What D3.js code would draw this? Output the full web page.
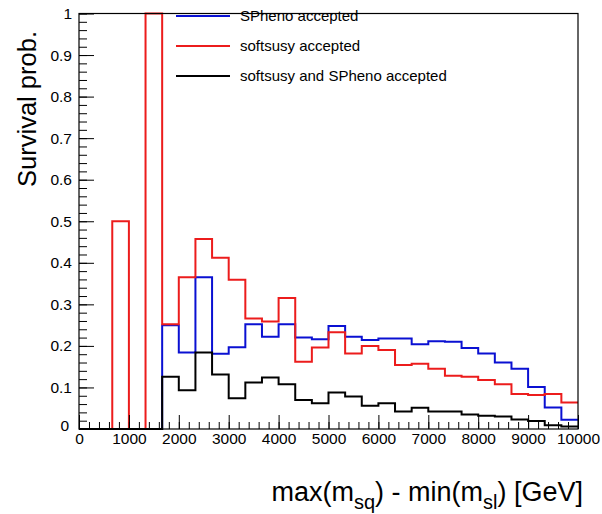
<!DOCTYPE html>
<html>
<head>
<meta charset="utf-8">
<script src="https://cdn.jsdelivr.net/npm/d3@7"></script>
<style>
  body { margin: 0; background: #fff; }
  svg { font-family: "Liberation Sans", Arial, Helvetica, sans-serif; }
</style>
</head>
<body>
<svg id="chart" width="602" height="514"></svg>
<script>
// histogram binning
const xMin = 0, xMax = 10000, nBins = 30

// survival probability per bin
const spheno = [0, 0, 0, 0, 0, 0.250, 0.184, 0.365, 0.181, 0.197,
    0.252, 0.222, 0.252, 0.220, 0.216, 0.248, 0.222, 0.214, 0.218, 0.218,
    0.204, 0.211, 0.210, 0.195, 0.182, 0.160, 0.145, 0.101, 0.052, 0.022]
const softsusy = [0, 0, 0.5, 0, 1.0, 0.252, 0.365, 0.457, 0.412, 0.359,
    0.266, 0.259, 0.315, 0.162, 0.196, 0.233, 0.182, 0.200, 0.190, 0.154,
    0.157, 0.145, 0.128, 0.126, 0.118, 0.108, 0.084, 0.082, 0.084, 0.064]
const both = [0, 0, 0, 0, 0, 0.126, 0.093, 0.184, 0.131, 0.074,
    0.112, 0.124, 0.108, 0.070, 0.062, 0.088, 0.078, 0.056, 0.062, 0.042,
    0.051, 0.042, 0.042, 0.035, 0.032, 0.030, 0.023, 0.019, 0.009, 0.006]

const legendLabels = ['SPheno accepted', 'softsusy accepted', 'softsusy and SPheno accepted']
const colors = ['#0a10d2', '#ec1c1c', '#000000']
const xTicks = [0, 1000, 2000, 3000, 4000, 5000, 6000, 7000, 8000, 9000, 10000]
const yTicks = [0, 0.1, 0.2, 0.3, 0.4, 0.5, 0.6, 0.7, 0.8, 0.9, 1]

let svg = d3.select('#chart')

let padL = 79, padR = 578, padT = 13.5, padB = 429

let x = d3.scaleLinear().domain([xMin, xMax]).range([padL, padR])
let y = d3.scaleLinear().domain([0, 1]).range([padB, padT])

let binW = (xMax - xMin) / nBins

// Histogram outlines
let line = d3.line()
    .x(function (d) { return x(d[0]) })
    .y(function (d) { return y(d[1]) })
    .curve(d3.curveStepAfter)

let series = [spheno, softsusy, both]
series.forEach(function (vals, k) {
    let pts = vals.map(function (v, i) { return [xMin + i * binW, v] })
    pts.push([xMax, vals[vals.length - 1]])
    svg.append('path')
        .attr('d', line(pts))
        .attr('fill', 'none')
        .attr('stroke', colors[k])
        .attr('stroke-width', 2)
})

// Minor ticks
svg.append('g')
    .attr('transform', 'translate(0,' + padB + ')')
    .call(d3.axisBottom(x).tickValues(d3.range(xMin, xMax + 1, 200)).tickSize(-7).tickFormat(''))
    .call(function (g) { g.select('.domain').remove() })
svg.append('g')
    .attr('transform', 'translate(' + padL + ',0)')
    .call(d3.axisLeft(y).tickValues(d3.range(0, 51).map(function (i) { return i / 50 })).tickSize(-8).tickFormat(''))
    .call(function (g) { g.select('.domain').remove() })

// Major ticks + labels
let xAxis = svg.append('g')
    .attr('transform', 'translate(0,' + padB + ')')
    .call(d3.axisBottom(x).tickValues(xTicks).tickSize(-14).tickPadding(4).tickFormat(d3.format('d')))
xAxis.select('.domain').remove()
xAxis.selectAll('text').attr('font-size', 15.5).attr('fill', '#000').style('font-family', 'inherit')

let yAxis = svg.append('g')
    .attr('transform', 'translate(' + padL + ',0)')
    .call(d3.axisLeft(y).tickValues(yTicks).tickSize(-15).tickPadding(7).tickFormat(function (d) { return String(+d.toFixed(1)) }))
yAxis.select('.domain').remove()
yAxis.selectAll('text').attr('font-size', 15.5).attr('fill', '#000').style('font-family', 'inherit')
yAxis.selectAll('.tick').filter(function (d) { return d === 0 }).select('text')
    .attr('dy', '0.1em').attr('x', -10)

svg.selectAll('.tick line').attr('stroke', '#000').attr('stroke-width', 1)

// Frame
svg.append('rect')
    .attr('x', padL).attr('y', padT)
    .attr('width', padR - padL).attr('height', padB - padT)
    .attr('fill', 'none').attr('stroke', '#000').attr('stroke-width', 1.2)

// Legend
let legend = svg.append('g')
legendLabels.forEach(function (lab, k) {
    let ly = 16 + k * 30
    legend.append('line')
        .attr('x1', 176).attr('x2', 230).attr('y1', ly).attr('y2', ly)
        .attr('stroke', colors[k]).attr('stroke-width', 2)
    legend.append('text')
        .attr('x', 240).attr('y', ly).attr('dy', '0.35em')
        .attr('font-size', 15).text(lab)
})

// Axis titles
svg.append('text')
    .attr('transform', 'translate(36,31) rotate(-90)')
    .attr('text-anchor', 'end')
    .attr('font-size', 25.5)
    .text('Survival prob.')

let xt = svg.append('text')
    .attr('x', 583).attr('y', 501)
    .attr('text-anchor', 'end')
    .attr('font-size', 27)
xt.append('tspan').text('max(m')
xt.append('tspan').attr('font-size', 20).attr('dy', 8).text('sq')
xt.append('tspan').attr('dy', -8).text(') - min(m')
xt.append('tspan').attr('font-size', 20).attr('dy', 8).text('sl')
xt.append('tspan').attr('dy', -8).text(') [GeV]')
</script>
</body>
</html>
